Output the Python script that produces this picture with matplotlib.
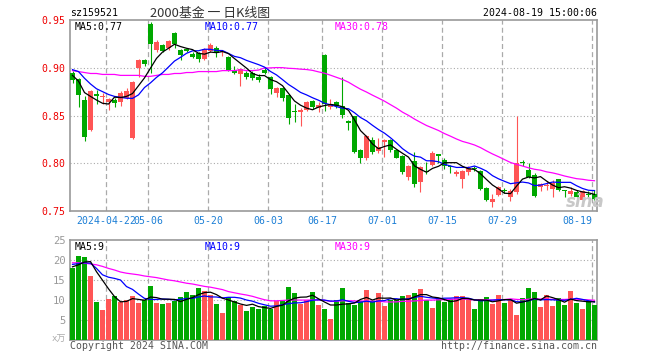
import numpy as np
import matplotlib
matplotlib.use('Agg')
import matplotlib.pyplot as plt
import matplotlib.transforms as mtransforms

plt.rcParams['font.family'] = ['DejaVu Sans Mono', 'Noto Sans CJK SC']

# daily candles, 2024-04-12 .. 2024-08-19 (88 trading days)
opens = [0.895, 0.888, 0.866, 0.835, 0.873, 0.869, 0.864, 0.866, 0.864, 0.868,
         0.826, 0.900, 0.908, 0.946, 0.919, 0.924, 0.921, 0.936, 0.919, 0.919,
         0.914, 0.915, 0.909, 0.918, 0.921, 0.916, 0.911, 0.898, 0.893, 0.895,
         0.895, 0.890, 0.898, 0.890, 0.874, 0.879, 0.871, 0.855, 0.854, 0.856,
         0.865, 0.858, 0.913, 0.859, 0.864, 0.860, 0.844, 0.849, 0.814, 0.805,
         0.824, 0.813, 0.822, 0.824, 0.814, 0.808, 0.786, 0.802, 0.780, 0.792,
         0.798, 0.809, 0.803, 0.797, 0.789, 0.784, 0.791, 0.795, 0.792, 0.774,
         0.759, 0.767, 0.772, 0.765, 0.770, 0.801, 0.793, 0.788, 0.775, 0.776,
         0.773, 0.783, 0.772, 0.768, 0.770, 0.762, 0.768, 0.768]
highs = [0.897, 0.889, 0.870, 0.877, 0.877, 0.874, 0.868, 0.868, 0.876, 0.879,
         0.886, 0.909, 0.909, 0.948, 0.929, 0.925, 0.929, 0.937, 0.920, 0.921,
         0.917, 0.916, 0.921, 0.926, 0.923, 0.919, 0.912, 0.902, 0.900, 0.897,
         0.897, 0.893, 0.901, 0.891, 0.880, 0.880, 0.872, 0.862, 0.858, 0.865,
         0.866, 0.864, 0.914, 0.867, 0.865, 0.890, 0.845, 0.850, 0.815, 0.830,
         0.828, 0.826, 0.825, 0.825, 0.815, 0.809, 0.798, 0.812, 0.797, 0.801,
         0.813, 0.809, 0.805, 0.798, 0.793, 0.793, 0.797, 0.797, 0.793, 0.775,
         0.768, 0.776, 0.774, 0.773, 0.849, 0.803, 0.800, 0.790, 0.779, 0.781,
         0.782, 0.784, 0.772, 0.775, 0.772, 0.772, 0.771, 0.772]
lows = [0.884, 0.859, 0.823, 0.834, 0.862, 0.862, 0.856, 0.859, 0.860, 0.867,
        0.825, 0.890, 0.902, 0.895, 0.917, 0.916, 0.919, 0.921, 0.908, 0.916,
        0.910, 0.906, 0.908, 0.916, 0.911, 0.912, 0.897, 0.893, 0.881, 0.888,
        0.887, 0.885, 0.893, 0.873, 0.869, 0.865, 0.841, 0.843, 0.839, 0.855,
        0.857, 0.854, 0.855, 0.857, 0.858, 0.847, 0.835, 0.811, 0.800, 0.803,
        0.810, 0.811, 0.807, 0.812, 0.805, 0.789, 0.782, 0.775, 0.770, 0.789,
        0.797, 0.800, 0.794, 0.790, 0.787, 0.774, 0.788, 0.792, 0.772, 0.760,
        0.754, 0.766, 0.769, 0.760, 0.768, 0.797, 0.785, 0.765, 0.771, 0.772,
        0.765, 0.771, 0.765, 0.766, 0.764, 0.760, 0.764, 0.762]
closes = [0.887, 0.871, 0.827, 0.876, 0.870, 0.870, 0.867, 0.863, 0.874, 0.876,
          0.885, 0.908, 0.904, 0.925, 0.927, 0.918, 0.928, 0.925, 0.913, 0.918,
          0.911, 0.909, 0.920, 0.924, 0.915, 0.917, 0.898, 0.894, 0.899, 0.890,
          0.889, 0.887, 0.894, 0.878, 0.879, 0.868, 0.847, 0.854, 0.856, 0.864,
          0.859, 0.861, 0.862, 0.862, 0.860, 0.851, 0.842, 0.812, 0.806, 0.829,
          0.812, 0.817, 0.824, 0.814, 0.806, 0.791, 0.797, 0.778, 0.796, 0.791,
          0.811, 0.808, 0.797, 0.796, 0.791, 0.792, 0.795, 0.794, 0.773, 0.761,
          0.763, 0.775, 0.771, 0.771, 0.800, 0.800, 0.786, 0.766, 0.778, 0.777,
          0.779, 0.772, 0.771, 0.771, 0.765, 0.771, 0.767, 0.763]
# volume in 万手
volumes = [18.1, 21.0, 20.75, 16.0, 9.5, 7.5, 10.25, 11.0, 9.5, 10.0,
           11.0, 9.25, 10.0, 13.5, 9.25, 9.0, 9.25, 9.75, 10.75, 12.0,
           11.25, 13.0, 12.25, 11.25, 9.0, 6.75, 10.75, 9.75, 8.75, 7.25,
           8.25, 7.75, 8.5, 7.75, 9.75, 9.75, 13.25, 11.75, 9.0, 10.0,
           12.0, 8.75, 7.75, 5.25, 10.0, 13.0, 9.2, 8.75, 9.75, 12.5,
           9.75, 11.75, 8.5, 10.0, 10.0, 11.0, 11.25, 11.75, 12.75, 10.0,
           8.0, 10.25, 9.5, 10.25, 11.0, 11.0, 10.0, 7.75, 10.25, 10.75,
           9.0, 11.25, 9.25, 10.25, 6.25, 10.5, 13.0, 12.0, 8.25, 11.25,
           8.5, 10.5, 8.75, 12.25, 9.25, 7.75, 9.75, 8.75]

# moving-average values before a full window exists
ma5_head = [0.892, 0.886, 0.874, 0.870]
ma10_head = [0.898, 0.896, 0.889, 0.883, 0.878, 0.875, 0.872, 0.870, 0.869]
ma30_head = [0.897, 0.896, 0.895, 0.894, 0.894, 0.893, 0.893, 0.893, 0.892, 0.892,
             0.892, 0.892, 0.891, 0.891, 0.892, 0.893, 0.893, 0.894, 0.894, 0.895,
             0.895, 0.896, 0.896, 0.896, 0.896, 0.897, 0.897, 0.897, 0.898]
vma5_head = [18.3, 18.8, 19.5, 19.6]
vma10_head = [18.9, 19.1, 19.3, 19.2, 17.9, 16.3, 15.7, 15.4, 15.0]
vma30_head = [19.3, 19.3, 19.2, 19.0, 18.8, 18.4, 17.9, 17.5, 17.0, 16.7,
              16.5, 16.3, 16.0, 15.8, 15.6, 15.3, 15.0, 14.8, 14.5, 14.2,
              14.0, 13.7, 13.4, 13.2, 12.9, 12.6, 12.1, 11.8, 11.5]

tick_pos = [6, 13, 23, 33, 42, 52, 62, 72, 87]
tick_labels = ['2024-04-22', '05-06', '05-20', '06-03', '06-17',
               '07-01', '07-15', '07-29', '08-19']


def moving_avg(vals, n, head):
    out = list(head)
    for i in range(len(head), len(vals)):
        out.append(np.mean(vals[i - n + 1:i + 1]))
    return np.array(out)


ma5 = moving_avg(closes, 5, ma5_head)
ma10 = moving_avg(closes, 10, ma10_head)
ma30 = moving_avg(closes, 30, ma30_head)
vma5 = moving_avg(volumes, 5, vma5_head)
vma10 = moving_avg(volumes, 10, vma10_head)
vma30 = moving_avg(volumes, 30, vma30_head)

W, H = 660, 360
RED = '#ff5555'
GREEN = '#00a800'
GRID = '#aaaaaa'
SPINE = '#999999'
FS = 7.1

n = len(closes)
x = np.arange(n)
o = np.array(opens)
c = np.array(closes)
up = c >= o
colors = [RED if u else GREEN for u in up]

fig = plt.figure(figsize=(W / 100, H / 100), dpi=100)
fig.patch.set_facecolor('white')


def ax_px(left, top, right, bottom):
    return fig.add_axes([left / W, 1 - bottom / H, (right - left) / W, (bottom - top) / H])


ax = ax_px(70, 20, 597, 211)
axv = ax_px(70, 240, 597, 340)

xlo, xhi = -2.5 / 6, (597 - 72.5) / 6
grid_x = [p - 2.5 / 6 for p in tick_pos]

for a in (ax, axv):
    a.set_xlim(xlo, xhi)
    a.set_xticks([])
    for s in a.spines.values():
        s.set_color(SPINE)
        s.set_linewidth(1.2)
    for gx in grid_x:
        a.axvline(gx, color=GRID, lw=0.9, ls=(0, (4, 2.5)), zorder=1)

# ---- price panel
ax.set_ylim(0.75, 0.95)
yt = [0.75, 0.80, 0.85, 0.90, 0.95]
ax.set_yticks(yt)
ax.set_yticklabels(['%.2f' % v for v in yt])
ax.tick_params(axis='y', length=0, pad=3, labelcolor='#ee0000', labelsize=FS)
for v in [0.80, 0.85, 0.90]:
    ax.axhline(v, color=GRID, lw=0.8, ls=(0, (1, 2)), zorder=1)

body_lo = np.minimum(o, c)
body_h = np.maximum(np.abs(c - o), 0.0012)
ax.vlines(x, lows, highs, colors=colors, lw=0.8, zorder=2)
ax.bar(x, body_h, bottom=body_lo, width=5 / 6, color=colors, lw=0, zorder=3)

ax.plot(x, ma30, color='#ff00ff', lw=0.9, zorder=4)
ax.plot(x, ma10, color='#0000ff', lw=0.9, zorder=5)
ax.plot(x, ma5, color='black', lw=0.9, zorder=6)

# faint logo in the lower right corner of the price panel
fig.text(566 / W, 1 - 207 / H, 'sina', fontsize=12, color='#c8c8c8',
         style='italic', fontweight='bold', family='DejaVu Sans', zorder=0)

lab_tr = mtransforms.blended_transform_factory(ax.transData, fig.transFigure)
for gx, lbl in zip(grid_x, tick_labels):
    ha = 'right' if lbl == '08-19' else 'center'
    ax.text(gx, 1 - 221.5 / H, lbl, transform=lab_tr, ha=ha, va='center',
            fontsize=FS, color='#1c7fd6', clip_on=False)

# ---- volume panel
axv.set_ylim(0, 25)
vt = [5, 10, 15, 20, 25]
axv.set_yticks(vt)
axv.set_yticklabels([str(v) for v in vt])
axv.tick_params(axis='y', length=0, pad=3, labelcolor='#999999', labelsize=FS + 0.5)
for v in [5, 10, 15, 20]:
    axv.axhline(v, color=GRID, lw=0.8, ls=(0, (1, 2)), zorder=1)
axv.bar(x, volumes, width=5 / 6, color=colors, lw=0, zorder=3)
axv.plot(x, vma30, color='#ff00ff', lw=0.9, zorder=4)
axv.plot(x, vma10, color='#0000ff', lw=0.9, zorder=5)
axv.plot(x, vma5, color='black', lw=0.9, zorder=6)


def ftext(px, py, s, **kw):
    fig.text(px / W, 1 - py / H, s, fontsize=kw.pop('fontsize', FS), **kw)


ftext(70, 13, 'sz159521', va='center', color='black')
ftext(150, 13, '2000基金 一 日K线图', va='center', color='#333333', fontsize=9.3,
      family=['Noto Sans CJK SC', 'DejaVu Sans'])
ftext(597, 13, '2024-08-19 15:00:06', va='center', ha='right', color='black')

ftext(75, 27, 'MA5:%.2f' % ma5[-1], va='center', color='black')
ftext(205, 27, 'MA10:%.2f' % ma10[-1], va='center', color='#0000ff')
ftext(335, 27, 'MA30:%.2f' % ma30[-1], va='center', color='#ff00ff')

ftext(75, 246.5, 'MA5:%d' % int(vma5[-1]), va='center', color='black')
ftext(205, 246.5, 'MA10:%d' % int(vma10[-1]), va='center', color='#0000ff')
ftext(335, 246.5, 'MA30:%d' % int(vma30[-1]), va='center', color='#ff00ff')

ftext(66, 339.5, 'x万', va='center', ha='right', color='#aaaaaa', fontsize=6.5)
ftext(70, 346, 'Copyright 2024 SINA.COM', va='center', color='#555555')
ftext(597, 346, 'http://finance.sina.com.cn', va='center', ha='right', color='#555555')

fig.savefig('out.png', dpi=100, facecolor='white')
